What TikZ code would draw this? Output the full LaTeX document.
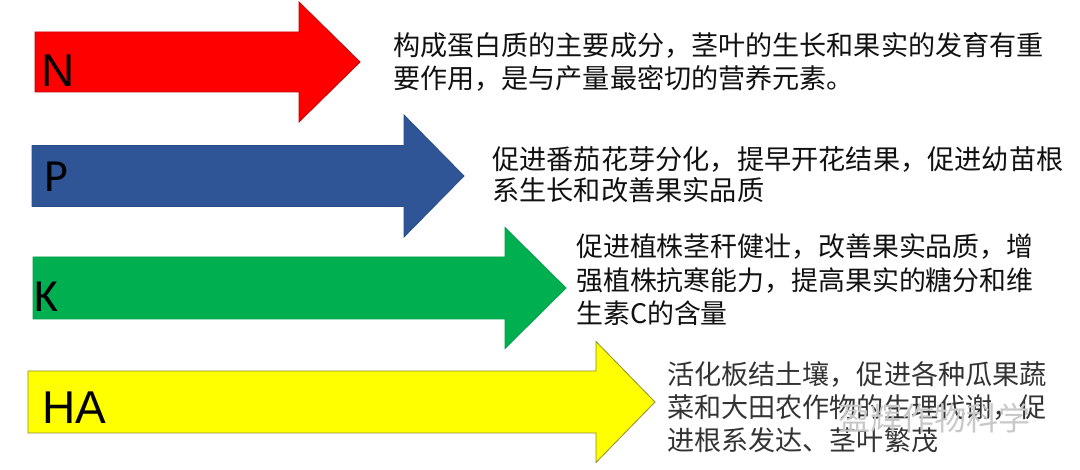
\documentclass[tikz,border=0pt]{standalone}
\usepackage{fontspec}
\setmainfont{Noto Sans CJK SC}
\newfontfamily\arialfont{Liberation Sans}
\newfontfamily\calfont{Carlito}
\definecolor{nred}{HTML}{FF0000}
\definecolor{nredb}{HTML}{C00000}
\definecolor{pblue}{HTML}{2F5597}
\definecolor{pblueb}{HTML}{2A4C88}
\definecolor{kgreen}{HTML}{00B050}
\definecolor{kgreenb}{HTML}{00A04A}
\definecolor{hayel}{HTML}{FFFF00}
\definecolor{hayelb}{HTML}{8C8C30}
\definecolor{txt}{HTML}{111111}
\definecolor{watermark}{HTML}{C8C8C8}
% #1 fill, #2 border, #3 left x, #4 center y, #5 head base x, #6 tip x, #7 body half height, #8 head half height
\newcommand{\fatarrowshape}[8]{%
  \filldraw[fill=#1, draw=#2, line width=0.8pt, line join=miter]
    (#3,#4-#7) -- (#5,#4-#7) -- (#5,#4-#8) -- (#6,#4) -- (#5,#4+#8)
    -- (#5,#4+#7) -- (#3,#4+#7) -- cycle;}
\tikzset{
  elemlabel/.style={anchor=west, inner sep=0pt, text=black},
  desc/.style={anchor=west, inner sep=0pt, align=left, text=txt},
}
\begin{document}
\begin{tikzpicture}[x=1pt,y=-1pt]
\useasboundingbox[fill=white] (0,0) rectangle (1080,470);
% arrows
\fatarrowshape{nred}{nredb}{35}{62}{299}{360}{30}{60}
\fatarrowshape{pblue}{pblueb}{32}{176}{404}{464}{30.5}{61}
\fatarrowshape{kgreen}{kgreenb}{33}{288}{505}{566}{31}{60.5}
\fatarrowshape{hayel}{hayelb}{28}{402}{596}{655}{31}{60.5}
% element labels
\node[elemlabel, font=\arialfont\fontsize{46}{46}\selectfont] (labN) at (41,71) {N};
\node[elemlabel, font=\calfont\fontsize{46}{46}\selectfont] (labP) at (44,177) {P};
\node[elemlabel, font=\calfont\fontsize{46}{46}\selectfont] (labK) at (34,297) {K};
\node[elemlabel, font=\arialfont\fontsize{46}{46}\selectfont] (labHA) at (42,408) {HA};
% descriptions
\node[desc, font=\fontsize{27.1}{33}\selectfont] (descN) at (393,62)
  {构成蛋白质的主要成分，茎叶的生长和果实的发育有重\\要作用，是与产量最密切的营养元素。};
\node[desc, font=\fontsize{27.2}{31}\selectfont] (descP) at (492,175)
  {促进番茄花芽分化，提早开花结果，促进幼苗根\\系生长和改善果实品质};
\node[desc, font=\fontsize{26.9}{33.5}\selectfont] (descK) at (576,280)
  {促进植株茎秆健壮，改善果实品质，增\\强植株抗寒能力，提高果实的糖分和维\\生素C的含量};
\node[desc, font=\fontsize{27.1}{33}\selectfont, text=black!80] (descHA) at (667,407)
  {活化板结土壤，促进各种瓜果蔬\\菜和大田农作物的生理代谢，促\\进根系发达、茎叶繁茂};
% watermark
\node[anchor=west, inner sep=0pt, text=watermark, font=\fontsize{32}{32}\selectfont] (wm) at (838,418) {盈辉作物科学};
\end{tikzpicture}
\end{document}
